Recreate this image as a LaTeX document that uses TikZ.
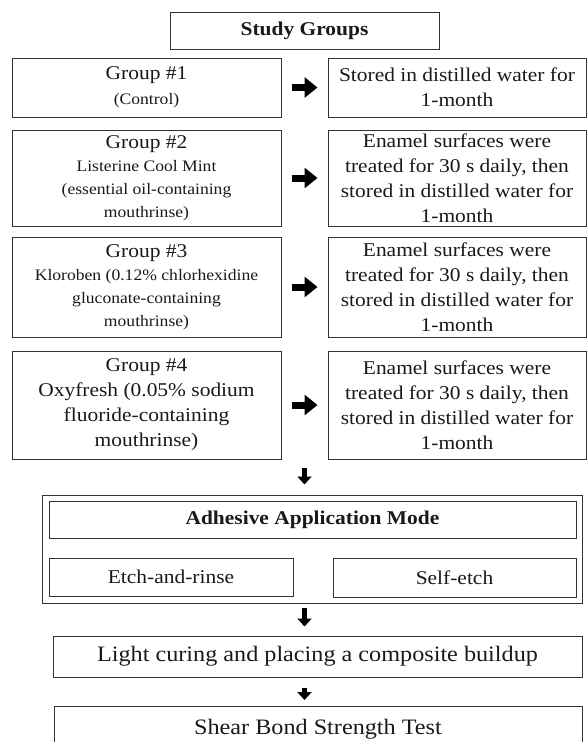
\documentclass[tikz,border=0pt]{standalone}
\usepackage{fontspec}
\setmainfont{Liberation Serif}[FakeStretch=1.1]
\usetikzlibrary{arrows.meta,calc}
\newcommand{\regtxt}{\fontsize{19.5}{25}\selectfont}
\newcommand{\smalltxt}{\fontsize{16}{22}\selectfont}
\newcommand{\largetxt}{\fontsize{22}{26}\selectfont}

\begin{document}
\begin{tikzpicture}[x=1pt,y=-1pt,
    box/.style={draw=black!80,line width=1pt,inner sep=0pt,align=center,font=\regtxt,text=black!90},
    groupbox/.style={box,minimum width=269pt},
    treatbox/.style={box,minimum width=258pt},
    rarrow/.style={line width=7pt,-{Triangle[length=13pt,width=20pt]},shorten <=10pt,shorten >=10pt},
    darrow/.style={line width=5pt,-{Triangle[length=8pt,width=14pt]}}]
    \clip (0,0) rectangle (587,742);
    \coordinate (mid) at (304.5,0);
    % Title
    \node[box,minimum width=269pt,minimum height=37pt] (sg) at (304.5,30.5) {\textbf{Study Groups}};
    % Group 1
    \node[groupbox,minimum height=59pt] (g1) at (146.5,87.5) {Group \#1\\\smalltxt (Control)};
    \node[treatbox,minimum height=59pt] (r1) at (457,87.5) {Stored in distilled water for\\1-month};
    % Group 2
    \node[groupbox,minimum height=96pt] (g2) at (146.5,178) {Group \#2\\[-2pt]\smalltxt Listerine Cool Mint\\[-2pt]\smalltxt (essential oil-containing\\[-2pt]\smalltxt mouthrinse)};
    \node[treatbox,minimum height=96pt] (r2) at (457,178) {Enamel surfaces were\\treated for 30 s daily, then\\stored in distilled water for\\1-month};
    % Group 3
    \node[groupbox,minimum height=100pt] (g3) at (146.5,287) {Group \#3\\[-2pt]\smalltxt Kloroben (0.12\% chlorhexidine\\[-2pt]\smalltxt gluconate-containing\\[-2pt]\smalltxt mouthrinse)};
    \node[treatbox,minimum height=100pt] (r3) at (457,287) {Enamel surfaces were\\treated for 30 s daily, then\\stored in distilled water for\\1-month};
    % Group 4
    \node[groupbox,minimum height=108pt] (g4) at (146.5,405) {Group \#4\\Oxyfresh (0.05\% sodium\\fluoride-containing\\mouthrinse)};
    \node[treatbox,minimum height=108pt] (r4) at (457,405) {Enamel surfaces were\\treated for 30 s daily, then\\stored in distilled water for\\1-month};
    % Arrows between columns
    \draw[rarrow] (g1) -- (r1);
    \draw[rarrow] (g2) -- (r2);
    \draw[rarrow] (g3) -- (r3);
    \draw[rarrow] (g4) -- (r4);
    % Adhesive application mode
    \node[box,minimum width=540pt,minimum height=108pt] (outer) at (312,549) {};
    \node[box,minimum width=527pt,minimum height=37pt] (adm) at (312.5,519.5) {\textbf{Adhesive Application Mode}};
    \node[box,minimum width=244pt,minimum height=38pt] (er) at (171,577) {Etch-and-rinse};
    \node[box,minimum width=243pt,minimum height=39pt] (se) at (454.5,577.5) {Self-etch};
    % Final steps
    \node[box,minimum width=529pt,minimum height=41pt,font=\largetxt] (lc) at (317.5,656.5) {Light curing and placing a composite buildup};
    \node[box,minimum width=528pt,minimum height=54pt,font=\largetxt,anchor=north] (sb) at (318,706) {\raisebox{14pt}{Shear Bond Strength Test}};
    % Arrows down
    \draw[darrow,shorten <=8pt,shorten >=10pt] (g4.south -| mid) -- (outer.north -| mid);
    \draw[darrow,shorten <=4pt,shorten >=9pt] (outer.south -| mid) -- (lc.north -| mid);
    \draw[darrow,shorten <=10pt,shorten >=6pt] (lc.south -| mid) -- (sb.north -| mid);
\end{tikzpicture}
\end{document}
